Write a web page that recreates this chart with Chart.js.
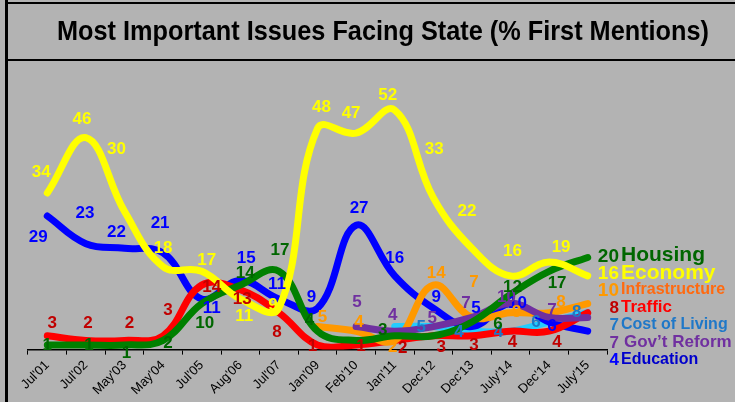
<!DOCTYPE html>
<html>
<head>
<meta charset="utf-8">
<script src="https://cdn.jsdelivr.net/npm/chart.js@4"></script>
<style>
	body { margin:0; background:#b3b3b3; }
	#wrap { width:735px; height:402px; }
</style>
</head>
<body>
<div id="wrap"><canvas id="line-chart-issues" width="735" height="402"></canvas></div>
<script>
// survey dates
var labels = ["Jul'01","Jul'02","May'03","May'04","Jul'05","Aug'06","Jul'07","Jan'09","Feb'10","Jan'11","Dec'12","Dec'13","July'14","Dec'14","July'15"];

// % first mentions per issue
var economy        = [34,46,30,18,17,11,9,48,47,52,33,22,16,19,16];
var housing        = [1,1,1,2,10,14,17,4,2,3,3,6,12,17,20];
var govReform      = [null,null,null,null,null,null,null,null,5,4,5,7,10,7,7];
var infrastructure = [null,null,null,null,null,null,null,5,4,2,14,7,8,8,10];
var traffic        = [3,2,2,3,14,13,8,1,1,2,3,3,4,4,8];
var education      = [29,23,22,21,11,15,11,9,27,16,9,5,10,6,4];
var costOfLiving   = [null,null,null,null,null,null,null,null,null,5,5,4,4,6,8];

// text at the right end of the lines
var endNames   = ['Housing','Economy','Infrastructure','Traffic','Cost of Living','Gov\u2019t Reform','Education'];
var endNumbers = [20,16,10,8,7,7,4];

var FONT = '"Liberation Sans", Arial, sans-serif';

/* colours */
var yellow = '#ffff00';
var blue = '#0000ff';
var green = '#008000';
var red = '#ff0000';
var orange = '#ff9900';
var cyan = '#22ccff';
var purple = '#7030a0';

// where each value label sits relative to its point (null = not shown)
var nudge = {
	'Economy': [[-6,-21],[-4,-18],[-8,-62],[0,-18],[5,-11],[4,17],[-6,-3],[4,-21],[-5,-20],[-7,-15],[1,-48],[-5,-37],[2,-25],[12,-15],null],
	'Housing': [[0,0],[3,0],[2,8],[5,3],[3,20],[5,-12],[1,-21],[-8,-11],null,[-12,-5],null,[26,2],[2,-7],[8,12],null],
	'Gov\u2019t Reform': [null,null,null,null,null,null,null,null,[1,-24],[-2,-16],[-1,-8],[-6,-14],[-4,-6],[3,-7],null],
	'Infrastructure': [null,null,null,null,null,null,null,[5,-9],[3,-9],[-2,7],[3,-12],[2,-35],[6,0],[12,-10],null],
	'Traffic': [[5,-12],[2,-17],[5,-17],[5,-25],[10,2],[2,10],[-2,20],[-5,1],[5,1],[8,8],[8,12],[2,10],[2,11],[8,11],null],
	'Education': [[-9,21],[-1,-30],[-8,-16],[-3,-30],[10,9],[6,-22],[-2,-15],[-6,-11],[3,-17],[0,-18],[3,-11],[4,-18],[7,0],[3,4],null],
	'Cost of Living': [null,null,null,null,null,null,null,null,null,null,[-12,1],[-13,1],[-12,1],[-13,0],[-11,0]]
};

function makeSet(name, data, color, labelColor, endColor, nameSize) {
	return {
		label: name,
		data: data,
		borderColor: color,
		backgroundColor: color,
		borderWidth: 7,
		tension: 0.4,
		pointRadius: 0,
		borderCapStyle: 'round',
		borderJoinStyle: 'round',
		fill: false,
		labelColor: labelColor,
		endColor: endColor,
		nameSize: nameSize
	};
}

// first dataset is drawn on top
var datasets = [
	makeSet('Economy', economy, yellow, yellow, yellow, 21),
	makeSet('Housing', housing, green, '#006600', '#006600', 21),
	makeSet('Gov\u2019t Reform', govReform, purple, purple, purple, 17),
	makeSet('Infrastructure', infrastructure, orange, orange, '#ff6a10', 16),
	makeSet('Traffic', traffic, red, '#c00000', red, 17),
	makeSet('Education', education, blue, blue, '#0000cc', 16),
	makeSet('Cost of Living', costOfLiving, cyan, '#1f78c8', '#1f78c8', 16)
];

// numbers shown next to the names use their own colour
var endNumColor = ['#006600', yellow, orange, '#c00000', '#1f78c8', purple, blue];

// background, frame and title
var framePlugin = {
	id: 'frame',
	beforeDraw: function(chart) {
		var ctx = chart.ctx;
		ctx.save();
		ctx.fillStyle = '#b3b3b3';
		ctx.fillRect(0, 0, chart.width, chart.height);
		ctx.strokeStyle = '#000';
		ctx.lineWidth = 3;
		ctx.beginPath();
		ctx.moveTo(6.5, 0); ctx.lineTo(6.5, chart.height);
		ctx.stroke();
		ctx.lineWidth = 2;
		ctx.beginPath();
		ctx.moveTo(5, 3); ctx.lineTo(chart.width, 3);
		ctx.moveTo(5, 60); ctx.lineTo(chart.width, 60);
		ctx.stroke();

		var title = 'Most Important Issues Facing State (% First Mentions)';
		ctx.font = 'bold 27px ' + FONT;
		var w = ctx.measureText(title).width;
		ctx.translate(383, 33);
		ctx.scale(652 / w, 1);
		ctx.fillStyle = '#000';
		ctx.textAlign = 'center';
		ctx.textBaseline = 'middle';
		ctx.fillText(title, 0, 0);
		ctx.restore();
	}
};

// value labels and the names at the right
var labelPlugin = {
	id: 'valueLabels',
	afterDatasetsDraw: function(chart) {
		var ctx = chart.ctx;
		ctx.save();
		ctx.textAlign = 'center';
		ctx.textBaseline = 'middle';
		ctx.font = 'bold 17px ' + FONT;
		for (var d = chart.data.datasets.length - 1; d >= 0; d--) {
			var ds = chart.data.datasets[d];
			var meta = chart.getDatasetMeta(d);
			var offs = nudge[ds.label];
			ctx.fillStyle = ds.labelColor;
			for (var i = 0; i < ds.data.length; i++) {
				if (ds.data[i] == null || !offs[i]) continue;
				var pt = meta.data[i];
				ctx.fillText(ds.data[i], pt.x + offs[i][0], pt.y + offs[i][1]);
			}
		}

		var area = chart.chartArea;
		var y0 = chart.scales.y.getPixelForValue(endNumbers[0]) - 2;
		for (var k = 0; k < endNames.length; k++) {
			var ds2 = chart.data.datasets.filter(function(s) { return s.label == endNames[k]; })[0];
			var yy = y0 + k * 17.3;
			var big = ds2.nameSize >= 20;
			ctx.textAlign = 'right';
			ctx.fillStyle = endNumColor[k];
			ctx.font = 'bold ' + (big || k == 2 ? 19 : 17) + 'px ' + FONT;
			ctx.fillText(endNumbers[k], area.right + 12, yy + 1);
			ctx.textAlign = 'left';
			ctx.fillStyle = ds2.endColor;
			ctx.font = 'bold ' + ds2.nameSize + 'px ' + FONT;
			ctx.fillText(endNames[k], area.right + 14 + (k == 5 ? 3 : 0), yy);
		}
		ctx.restore();
	}
};

new Chart(document.getElementById('line-chart-issues'), {
	type: 'line',
	data: {
		labels: labels,
		datasets: datasets
	},
	options: {
		responsive: false,
		animation: false,
		layout: { padding: { left: 28, right: 128, top: 64, bottom: 1 } },
		plugins: {
			legend: { display: false },
			tooltip: { enabled: false },
			title: { display: false }
		},
		scales: {
			x: {
				offset: true,
				grid: { display: true, drawOnChartArea: false, drawTicks: true, tickLength: 5, color: '#000', offset: true },
				border: { display: true, color: '#000', width: 1.5 },
				ticks: {
					autoSkip: false,
					minRotation: 45,
					maxRotation: 45,
					padding: 3,
					color: '#000',
					font: { family: FONT, size: 13 }
				}
			},
			y: {
				display: false,
				min: 0,
				max: 62
			}
		}
	},
	plugins: [framePlugin, labelPlugin]
});
</script>
</body>
</html>
